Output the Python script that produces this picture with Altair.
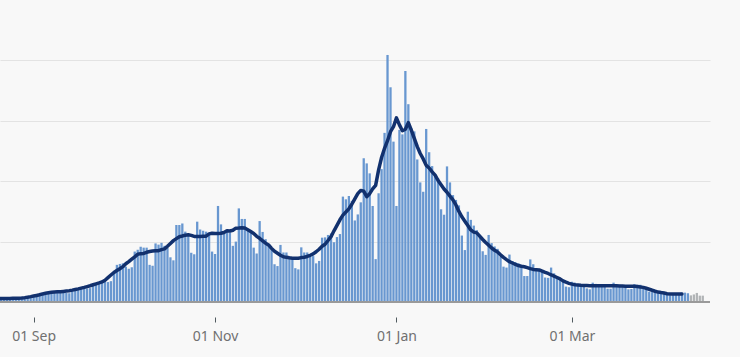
import altair as alt
import pandas as pd

# Daily cases (thousands), 19 Aug 2020 .. 14 Apr 2021
aug = [1.2, 1.2, 1.1, 1.0, 1.0, 1.3, 1.3, 1.3, 1.4, 1.3, 1.1, 1.2, 1.6]
sep = [2.2, 2.4, 2.6, 2.7, 2.5, 2.7, 3.6, 3.6, 3.7, 3.6,
       3.5, 3.0, 2.9, 4.3, 4.4, 4.6, 4.8, 4.9, 4.5, 4.6,
       6.0, 6.3, 6.6, 7.0, 7.1, 6.6, 6.9, 10.0, 12.3, 12.6]
oct_ = [12.8, 11.7, 11.0, 11.5, 16.7, 17.3, 18.3, 18.0, 18.0, 12.3,
        12.0, 19.4, 19.0, 19.6, 18.6, 18.0, 14.8, 13.8, 25.5, 25.5,
        26.0, 23.3, 22.5, 16.3, 15.8, 26.6, 24.0, 23.6, 23.3, 22.5, 16.7]
nov = [15.9, 31.8, 25.7, 22.7, 23.5, 23.0, 18.6, 20.0, 31.0, 27.5,
       27.5, 23.8, 23.5, 18.0, 16.1, 26.8, 23.2, 20.8, 19.2, 17.8,
       12.5, 11.9, 18.9, 16.4, 16.4, 14.5, 14.2, 11.2, 10.8, 18.1]
dec = [16.4, 16.4, 15.8, 15.2, 12.8, 13.6, 21.3, 21.4, 22.2, 22.7,
       19.8, 21.5, 22.5, 34.9, 34.0, 35.1, 33.5, 27.0, 29.0, 33.0,
       47.6, 45.9, 42.6, 31.8, 14.2, 36.0, 44.0, 56.0, 81.8, 71.1, 53.1]
jan = [31.8, 57.0, 55.5, 76.5, 65.5, 57.5, 56.5, 47.2, 39.6, 36.5,
       57.3, 49.6, 45.0, 41.5, 41.0, 30.7, 28.9, 44.9, 39.6, 35.4,
       33.8, 32.0, 22.0, 17.2, 29.9, 27.2, 25.3, 23.8, 21.7, 16.8, 15.6]
feb = [22.2, 19.5, 18.4, 17.6, 15.0, 11.7, 11.4, 15.7, 13.6, 13.2,
       12.8, 12.0, 8.6, 8.6, 14.1, 12.5, 11.2, 10.5, 10.0, 8.1,
       8.0, 11.4, 9.5, 8.6, 7.5, 6.7, 5.1, 4.9]
mar = [6.7, 6.4, 6.0, 5.7, 5.3, 4.5, 4.2, 6.4, 6.0, 5.7,
       5.7, 5.3, 4.4, 4.4, 6.4, 5.7, 5.7, 5.6, 5.3, 4.2,
       4.3, 5.9, 5.7, 5.7, 5.3, 4.6, 3.4, 3.3, 3.8, 3.5, 3.3]
apr = [3.1, 2.6, 2.2, 2.3, 2.3, 2.8, 3.1, 3.1, 2.9, 2.2, 2.5, 3.0, 2.1, 2.1]

first_day = "2020-08-19"
last_complete_day = "2021-04-09"   # later bars are grey (incomplete)
last_average_day = "2021-04-07"    # rolling average stops here
tick_dates = [(2020, 9), (2020, 11), (2021, 1), (2021, 3)]
grid_values = [20, 40, 60, 80]

values = aug + sep + oct_ + nov + dec + jan + feb + mar + apr
dates = pd.date_range(first_day, periods=len(values), freq="D").strftime("%Y-%m-%d")
df = pd.DataFrame({"date": dates, "cases": values})
df["status"] = ["complete" if d <= last_complete_day else "incomplete" for d in df["date"]]
df["show_avg"] = [d <= last_average_day for d in df["date"]]

x_scale = alt.Scale(
    type="utc",
    domain=[alt.DateTime(year=2020, month=8, date=22, hours=9, utc=True),
            alt.DateTime(year=2021, month=4, date=14, hours=18, utc=True)],
)
x_axis = alt.Axis(
    values=[alt.DateTime(year=y, month=m, date=1, utc=True) for y, m in tick_dates],
    format="%d %b", title=None, grid=False, domain=False,
    labelFont="Noto Sans", labelFontSize=14, labelColor="#707070",
    tickColor="#505a5f", tickSize=5, tickWidth=1, offset=15, labelPadding=7,
)
y_scale = alt.Scale(domain=[0, 100], nice=False, zero=True)
y_axis = alt.Axis(values=grid_values, grid=True, gridColor="#e3e3e3", gridWidth=1,
                  labels=False, ticks=False, domain=False, title=None)

base = alt.Chart(df)

bars = base.mark_bar(size=2.3, clip=True).encode(
    x=alt.X("date:T", scale=x_scale, axis=x_axis),
    y=alt.Y("cases:Q", scale=y_scale, axis=y_axis),
    color=alt.Color("status:N",
                    scale=alt.Scale(domain=["complete", "incomplete"],
                                    range=["#6897d0", "#b1b4b6"]),
                    legend=None),
)

baseline = alt.Chart(pd.DataFrame({"zero": [0]})).mark_rule(
    color="#9a9a9a", strokeWidth=2
).encode(y=alt.Y("zero:Q", scale=y_scale, axis=y_axis))

line = base.transform_window(
    avg="mean(cases)", frame=[-3, 3], sort=[alt.SortField("date")]
).transform_filter(
    alt.datum.show_avg
).mark_line(color="#12316e", strokeWidth=3.5, clip=True,
            strokeJoin="round", strokeCap="round").encode(
    x=alt.X("date:T", scale=x_scale, axis=x_axis),
    y=alt.Y("avg:Q", scale=y_scale, axis=y_axis),
)

chart = alt.layer(bars, baseline, line).properties(
    width=710, height=302,
    autosize=alt.AutoSizeParams(type="none"),
    padding={"left": 0, "top": 0, "right": 30, "bottom": 55},
    background="#f8f8f8",
).configure_view(stroke=None)

chart.save("out.html", embed_options={"renderer": "svg", "actions": False})
